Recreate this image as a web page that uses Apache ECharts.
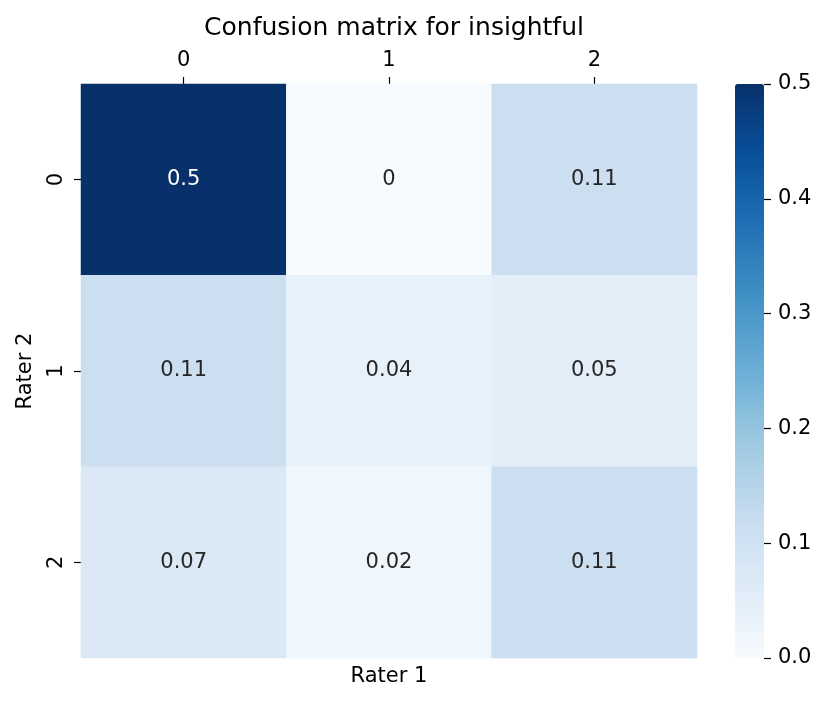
<!DOCTYPE html>
<html>
<head>
<meta charset="utf-8">
<script src="https://cdn.jsdelivr.net/npm/echarts@6/dist/echarts.min.js"></script>
<style>
html,body{margin:0;padding:0;background:#fff;}
#chart{width:829px;height:703px;}
</style>
</head>
<body>
<div id="chart"></div>
<script>
// Data
const xCategories = ['0', '1', '2'];   // Rater 1
const yCategories = ['0', '1', '2'];   // Rater 2
const row0 = [0.5, 0, 0.11];
const row1 = [0.11, 0.04, 0.05];
const row2 = [0.07, 0.02, 0.11];
const matrix = [row0, row1, row2];
const colorbarTicks = [0.0, 0.1, 0.2, 0.3, 0.4, 0.5];

const title = 'Confusion matrix for insightful';
const xName = 'Rater 1';
const yName = 'Rater 2';

const vmin = 0, vmax = 0.5;
const blues = ['#f7fbff', '#deebf7', '#c6dbef', '#9ecae1', '#6baed6', '#4292c6', '#2171b5', '#08519c', '#08306b'];

const FONT = 'DejaVu Sans';
const heatData = [];
matrix.forEach((row, r) => {
  row.forEach((v, c) => {
    heatData.push({
      value: [c, r, v],
      label: { color: (v - vmin) / (vmax - vmin) > 0.6 ? '#ffffff' : '#262626' }
    });
  });
});

const chart = echarts.init(document.getElementById('chart'), null, { renderer: 'canvas' });
chart.setOption({
  animation: false,
  backgroundColor: '#ffffff',
  textStyle: { fontFamily: FONT },
  title: {
    text: title,
    left: 389,
    top: 11,
    textAlign: 'center',
    textStyle: { fontFamily: FONT, fontSize: 25, fontWeight: 'normal', color: '#000' }
  },
  grid: [
    { left: 81, top: 84, width: 616, height: 574 },
    { left: 735, top: 84, width: 29, height: 574 }
  ],
  xAxis: [
    {
      type: 'category', gridIndex: 0, data: xCategories, position: 'top',
      axisLine: { show: false },
      axisTick: { show: true, alignWithLabel: true, length: 7, lineStyle: { color: '#000', width: 1.2 } },
      axisLabel: { fontFamily: FONT, fontSize: 21, color: '#000', margin: 13 },
      splitLine: { show: false }
    },
    {
      type: 'category', gridIndex: 0, data: xCategories, position: 'bottom',
      axisLine: { show: false }, axisTick: { show: false }, axisLabel: { show: false },
      name: xName, nameLocation: 'middle', nameGap: 8,
      nameTextStyle: { fontFamily: FONT, fontSize: 21, color: '#000', verticalAlign: 'top' }
    },
    { type: 'value', gridIndex: 1, show: false, min: 0, max: 1, axisLine: { onZero: false } }
  ],
  yAxis: [
    {
      type: 'category', gridIndex: 0, data: yCategories, inverse: true,
      axisLine: { show: false },
      axisTick: { show: true, alignWithLabel: true, length: 7, lineStyle: { color: '#000', width: 1.2 } },
      axisLabel: { fontFamily: FONT, fontSize: 21, color: '#000', rotate: 90, margin: 14 },
      name: yName, nameLocation: 'middle', nameGap: 45,
      nameTextStyle: { fontFamily: FONT, fontSize: 21, color: '#000' },
      splitLine: { show: false }
    },
    {
      type: 'value', gridIndex: 1, position: 'right', min: vmin, max: vmax, interval: 0.1,
      axisLine: { show: false, onZero: false },
      axisTick: { show: true, inside: false, length: 7, lineStyle: { color: '#000', width: 1.2 } },
      axisLabel: { fontFamily: FONT, fontSize: 21, color: '#000', margin: 14,
        formatter: v => v.toFixed(1) },
      splitLine: { show: false },
      z: 10
    }
  ],
  visualMap: {
    type: 'continuous',
    seriesIndex: 0,
    min: vmin, max: vmax,
    calculable: false,
    hoverLink: false,
    orient: 'vertical',
    left: 735, top: 84,
    itemWidth: 29, itemHeight: 574,
    padding: 0,
    text: null,
    showLabel: false,
    indicatorSize: 0,
    indicatorStyle: { opacity: 0 },
    z: 1,
    inRange: { color: blues }
  },
  series: [
    {
      type: 'heatmap',
      xAxisIndex: 0, yAxisIndex: 0,
      data: heatData,
      label: {
        show: true, fontFamily: FONT, fontSize: 21,
        formatter: p => String(p.value[2])
      },
      itemStyle: { borderWidth: 0 },
      emphasis: { disabled: true }
    },
    {
      type: 'scatter', xAxisIndex: 2, yAxisIndex: 1, data: [], silent: true
    }
  ]
});
</script>
</body>
</html>
